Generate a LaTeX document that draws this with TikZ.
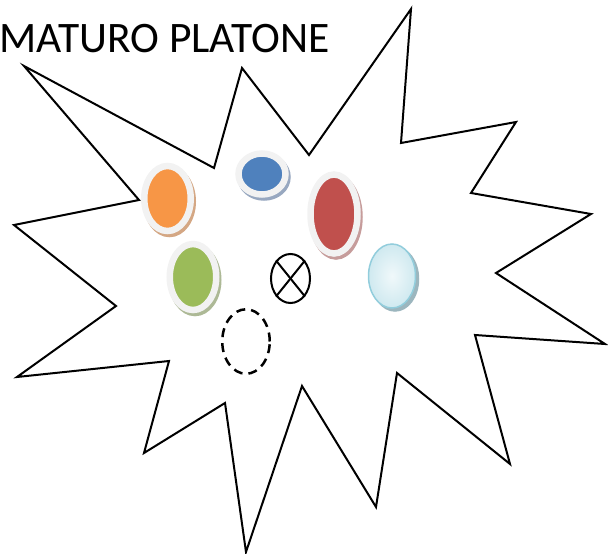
\documentclass[tikz,border=0pt]{standalone}
\usepackage{fontspec}
\setmainfont{Carlito}
\usepackage{tikz}
\usetikzlibrary{shapes.geometric}

\definecolor{ringgray}{HTML}{F2F2F2}
\definecolor{btnorange}{HTML}{F79646}
\definecolor{btnblue}{HTML}{4F81BD}
\definecolor{btnred}{HTML}{C0504D}
\definecolor{btngreen}{HTML}{9BBB59}
\definecolor{shorange}{HTML}{D4A784}
\definecolor{shblue}{HTML}{98A8C0}
\definecolor{shred}{HTML}{C69C9B}
\definecolor{shgreen}{HTML}{ADB996}
\definecolor{aquafill}{HTML}{DAEEF3}
\definecolor{aquaedge}{HTML}{92CDDC}
\definecolor{shaqua}{HTML}{9CB6BE}

\begin{document}
\begin{tikzpicture}[x=1pt,y=-1pt,
  btn/.style={ellipse,inner sep=0pt,draw=ringgray,line width=6.5pt,
    preaction={draw=#1,fill=#1,transform canvas={xshift=2pt,yshift=-3pt}}},
  glass/.style={ellipse,inner sep=0pt,draw=aquaedge,line width=1.5pt,
    inner color=white!60!aquafill,outer color=aquafill!85!aquaedge,
    preaction={draw=shaqua,fill=shaqua,transform canvas={xshift=3pt,yshift=-3pt}}},
  hole/.style={ellipse,inner sep=0pt,draw,line width=2.5pt,dash pattern=on 9pt off 6pt},
  xmark/.style={ellipse,inner sep=0pt,draw,line width=2pt},
  burst/.style={draw,line width=2pt,line join=miter}]
  \useasboundingbox (0,0) rectangle (608,554);
  % the burst outline
  \draw[burst] (24,66) -- (139,200) -- (14,225) -- (116,306) -- (17,377)
    -- (169,361) -- (144,453) -- (225,403) -- (246,552) -- (302,386)
    -- (376,507) -- (397,373) -- (510,464) -- (475,335) -- (605,344)
    -- (496,273) -- (591,214) -- (471,193) -- (516,122) -- (401,143)
    -- (411,9) -- (309,155) -- (242,68) -- (214,168) -- cycle;
  \node[anchor=base west,inner sep=0pt,font=\fontsize{43.5}{52}\selectfont]
    (title) at (-1,52) {MATURO PLATONE};
  % buttons
  \node[btn=shorange,fill=btnorange,minimum width=46.5pt,minimum height=65pt] (orange) at (167.5,198.5) {};
  \node[btn=shblue,fill=btnblue,minimum width=47pt,minimum height=41pt] (blue) at (262,174) {};
  \node[btn=shred,fill=btnred,minimum width=47pt,minimum height=79pt] (red) at (334,214) {};
  \node[btn=shgreen,fill=btngreen,minimum width=46.5pt,minimum height=66pt] (green) at (193,277) {};
  \node[glass,minimum width=47pt,minimum height=64pt] (aqua) at (392,276) {};
  \node[xmark,minimum width=39pt,minimum height=49pt] (cross) at (290.5,278.5) {};
  \draw[line width=2pt] (cross.north west) -- (cross.south east);
  \draw[line width=2pt] (cross.north east) -- (cross.south west);
  \node[hole,minimum width=47.5pt,minimum height=64.5pt] (empty) at (246,341.5) {};
\end{tikzpicture}
\end{document}
